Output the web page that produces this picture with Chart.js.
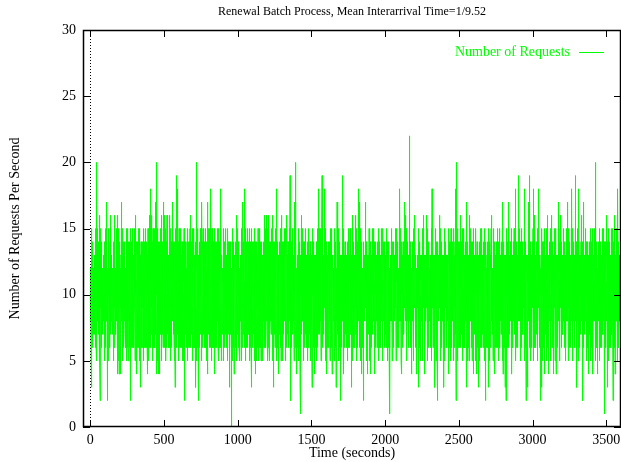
<!DOCTYPE html>
<html>
<head>
<meta charset="utf-8">
<script src="https://cdn.jsdelivr.net/npm/chart.js@4.4.1/dist/chart.umd.min.js"></script>
<style>
  html, body { margin: 0; padding: 0; background: #fff; overflow: hidden; }
  #wrap { width: 621px; height: 462px; position: relative; }
</style>
</head>
<body>
<div id="wrap"><canvas id="requests-chart"></canvas></div>
<script>
// Requests counted in each one-second slot, t = 0 .. 3599 (30 seconds per row)
const requests = [
10,12,8,9,11,5,15,10,9,3,6,11,10,6,14,9,10,14,8,11,9,7,12,10,8,11,9,13,10,7,
11,9,8,12,10,6,9,11,15,6,10,20,9,5,11,10,14,8,9,15,10,8,11,9,7,12,10,9,14,8,
9,16,10,8,11,5,2,9,12,10,6,15,9,11,10,6,14,9,8,10,11,9,7,10,12,8,10,13,9,11,
10,8,12,9,11,5,10,14,9,6,14,10,9,6,11,15,8,10,9,17,9,11,8,10,12,7,2,9,10,11,
5,10,15,9,8,11,10,12,6,9,11,9,10,6,14,15,9,7,16,10,8,12,9,11,10,9,13,8,10,7,
10,11,8,12,9,5,10,9,11,14,9,6,10,14,6,16,11,9,10,8,12,10,9,7,11,15,8,10,9,11,
9,12,10,8,4,11,16,9,10,5,11,6,15,10,9,4,14,10,8,11,9,10,7,12,4,10,11,9,13,8,
10,17,9,11,8,10,12,5,9,11,15,9,10,6,11,6,10,14,9,10,8,11,9,14,10,7,12,9,10,8,
11,6,10,15,8,5,12,14,9,11,6,10,13,9,15,10,5,9,14,7,9,13,8,11,6,12,7,14,10,9,
10,5,15,9,2,12,14,9,6,11,14,8,7,13,9,15,6,10,14,9,10,6,12,8,13,11,6,9,10,14,
9,15,10,5,12,9,14,7,16,10,11,6,14,4,10,8,13,14,9,7,6,12,9,13,11,6,10,9,15,11,
10,15,5,8,14,10,12,6,3,10,9,13,4,10,14,7,9,14,10,6,12,6,10,13,7,14,10,9,12,5,
11,5,10,15,6,10,14,7,9,12,10,8,13,7,11,15,6,13,9,10,6,14,9,14,11,6,10,4,13,9,
10,15,5,11,8,14,6,11,12,16,9,14,6,11,13,7,14,10,6,8,18,11,7,10,13,8,12,16,9,11,
12,5,10,14,11,15,6,10,7,11,10,8,13,9,15,11,14,6,6,14,11,7,10,13,17,9,8,14,10,4,
9,20,10,15,8,12,5,10,14,6,4,11,13,9,14,6,10,14,9,4,10,12,7,8,13,10,15,9,12,7,
11,8,15,16,5,12,10,14,11,7,10,13,9,6,17,6,10,13,9,14,12,8,14,9,6,16,9,11,12,8,
9,15,12,5,10,14,13,10,6,11,16,9,7,14,8,11,14,9,13,10,6,12,11,6,12,10,6,11,15,10,
16,10,5,11,15,8,12,9,14,10,11,6,6,13,14,11,9,17,10,8,10,13,7,11,8,14,13,9,6,10,
10,5,12,14,8,3,10,15,9,14,10,6,19,11,6,10,14,8,13,11,9,18,10,7,12,14,9,6,13,9,
11,5,15,12,9,6,13,11,8,14,10,14,6,15,9,11,7,10,13,9,6,11,14,9,12,10,5,13,9,10,
12,8,14,10,5,11,15,9,6,2,10,13,6,14,7,14,9,11,13,10,8,12,10,6,11,9,14,12,7,11,
10,5,15,9,12,6,11,14,10,8,13,10,14,6,7,11,15,9,12,10,9,6,16,10,8,13,11,7,14,12,
9,15,5,11,8,14,10,6,12,9,11,6,14,15,10,7,13,9,11,6,12,9,14,8,11,10,3,9,13,10,
20,10,5,12,14,8,10,15,6,11,14,9,2,10,13,7,11,6,14,12,9,6,11,13,8,10,15,12,7,11,
10,15,5,12,8,14,9,17,11,6,14,9,10,6,13,15,7,9,12,10,8,11,6,10,14,9,11,13,7,12,
11,8,15,9,6,12,14,9,11,5,9,14,10,14,6,4,10,17,9,13,10,7,12,15,11,8,10,13,6,10,
9,15,10,6,12,8,11,14,18,10,14,5,10,13,7,11,15,9,10,12,10,6,14,9,12,6,9,13,10,11,
4,10,15,8,11,5,12,9,14,10,6,11,9,13,6,10,14,7,11,9,12,8,10,15,9,11,6,13,10,8,
10,15,5,11,9,12,8,14,10,6,9,11,14,6,13,10,18,7,10,12,11,5,10,13,8,9,12,10,7,11,
12,8,11,14,9,5,15,10,6,11,10,14,6,9,13,11,7,10,15,9,8,11,13,10,6,12,9,11,8,14,
11,5,10,15,9,8,12,14,7,10,9,14,6,3,11,10,13,6,11,9,12,8,14,10,7,11,9,10,0,12,
10,8,15,11,5,9,12,14,9,6,14,10,6,13,9,4,11,7,10,12,9,13,10,8,11,6,12,9,14,10,
11,9,5,12,16,10,8,15,9,11,7,10,14,14,9,6,11,10,13,6,10,12,8,11,9,5,12,13,8,10,
12,8,10,15,5,11,9,14,10,6,9,11,13,6,10,17,7,14,9,11,10,14,8,11,12,9,6,10,13,18,
10,5,12,9,15,8,11,14,9,10,6,14,9,11,10,7,13,10,6,15,11,9,12,8,14,10,7,11,9,12,
9,15,5,11,8,10,14,6,11,10,6,12,9,15,3,11,7,9,13,10,6,14,9,11,8,10,14,7,9,12,
12,8,11,5,10,15,6,10,11,9,4,11,6,14,9,7,11,5,14,10,9,13,8,10,6,12,9,11,15,8,
5,12,9,11,14,8,10,6,10,15,11,6,9,14,7,10,13,9,5,11,10,9,14,8,11,7,12,10,9,13,
11,5,12,9,14,10,8,14,6,11,16,6,9,15,11,7,10,12,9,15,10,6,9,11,13,16,8,10,12,7,
12,9,5,10,15,8,11,6,14,10,16,11,6,14,9,5,11,13,7,9,11,10,14,8,12,9,7,11,10,13,
9,15,8,11,5,12,10,16,9,6,11,3,10,14,6,11,9,14,7,10,13,9,11,6,10,12,8,15,9,11,
8,12,18,9,11,5,15,10,9,14,10,14,6,11,6,4,12,9,13,10,7,11,9,12,10,8,14,10,6,11,
12,8,10,15,5,11,9,6,16,10,11,9,13,6,14,10,5,11,14,9,10,12,7,9,11,15,8,10,13,9,
9,11,14,5,10,12,8,15,9,6,10,14,6,11,16,9,7,13,10,11,8,14,10,9,12,6,11,10,13,8,
11,8,15,9,10,19,5,12,10,14,9,2,11,6,13,10,6,14,9,11,10,7,12,15,9,11,8,13,10,9,
12,9,5,11,17,10,15,8,10,6,11,20,9,14,6,14,10,7,11,9,4,12,10,9,13,8,11,6,10,12,
9,11,8,15,10,5,12,9,14,10,6,14,10,3,11,9,13,1,10,12,16,9,11,7,13,10,8,12,9,11,
10,15,8,11,5,12,9,14,10,6,14,9,6,11,13,10,8,12,9,15,7,11,10,13,9,8,12,10,6,11,
11,8,12,10,14,9,5,11,15,9,10,6,14,6,11,13,9,10,7,12,9,14,10,8,12,11,5,10,13,9,
12,9,11,8,3,10,15,9,5,11,10,14,6,14,9,11,7,10,13,9,4,11,9,12,10,8,13,6,11,10,
9,12,5,11,10,14,8,10,14,6,11,9,15,6,10,12,7,18,9,11,13,8,10,11,9,15,7,12,10,9,
10,11,8,15,9,5,12,10,14,9,6,14,19,10,11,6,13,9,10,12,7,11,9,13,10,8,12,11,18,9,
11,9,15,8,10,12,5,11,9,14,4,10,14,9,11,7,13,10,6,12,10,13,9,6,11,10,8,12,14,9,
12,8,10,11,14,9,5,15,10,9,11,6,14,10,6,13,9,11,15,10,4,11,9,12,10,7,13,8,11,10,
9,12,10,5,11,15,8,10,9,14,10,6,14,11,9,6,13,3,10,11,12,9,10,8,17,11,7,12,10,13,
10,11,8,15,9,12,5,10,14,9,11,9,14,6,10,13,7,2,11,10,9,12,10,6,11,8,13,10,9,12,
19,10,12,8,11,9,15,5,10,14,4,11,9,13,10,6,12,10,14,9,11,7,10,12,9,13,8,11,6,10,
12,9,11,14,8,10,5,14,9,11,10,15,6,11,9,6,12,10,13,8,9,11,15,10,8,12,9,11,7,13,
10,8,3,11,12,9,15,10,5,11,16,9,11,6,14,10,14,9,11,6,12,10,8,13,9,11,7,10,12,9,
16,11,9,12,8,10,15,5,11,10,9,14,10,14,6,11,9,18,10,12,8,11,13,9,10,6,12,10,17,9,
11,9,12,8,15,10,5,11,9,14,4,10,13,9,11,6,12,10,6,11,9,2,10,12,8,11,14,9,10,13,
10,12,8,11,9,15,10,17,9,11,14,5,10,14,9,11,6,12,10,13,4,11,9,12,10,8,13,10,7,11,
9,15,10,8,12,11,5,10,14,9,4,11,14,9,10,6,13,11,9,12,10,8,11,15,9,12,7,10,13,9,
12,10,9,15,8,11,10,5,14,9,4,12,10,11,9,14,6,10,12,11,9,13,8,10,11,6,12,9,10,14,
11,8,12,10,15,9,5,11,10,14,9,14,10,6,11,12,6,10,13,9,12,10,9,11,8,13,10,15,9,11,
10,12,9,11,5,15,10,8,14,9,11,9,13,10,6,12,14,9,10,7,13,10,8,11,12,9,6,11,10,12,
9,11,15,8,10,12,9,11,5,14,10,6,14,11,9,13,10,6,11,9,12,10,1,11,9,13,8,10,12,9,
11,15,9,10,8,12,11,5,10,13,5,11,9,14,10,14,6,11,9,12,10,9,11,8,13,10,12,9,11,15,
9,10,12,11,5,15,9,10,14,8,11,14,9,10,12,6,11,13,6,10,12,9,11,10,8,13,10,12,9,11,
18,10,12,9,11,8,15,10,5,11,4,14,9,11,10,13,6,10,12,9,11,10,14,8,12,9,11,7,10,13,
10,12,9,11,17,10,8,16,11,9,14,10,15,6,11,9,5,12,10,14,9,11,10,12,8,13,10,9,11,6,
11,9,12,10,15,8,22,10,9,14,10,11,6,13,9,12,10,5,11,10,4,12,10,9,11,14,8,10,12,9,
10,15,9,11,5,12,10,14,9,11,14,9,16,10,6,11,13,9,10,12,11,8,10,12,9,4,11,13,10,9,
12,10,11,9,15,3,10,14,8,11,9,12,10,14,6,11,9,10,13,5,10,11,9,12,8,13,10,11,9,12,
11,9,15,10,5,12,10,11,9,14,16,10,14,9,11,6,13,10,9,12,4,11,10,9,13,10,12,8,11,10,
16,10,12,9,11,8,15,10,5,14,10,9,11,13,6,12,10,14,9,11,12,10,8,11,9,13,10,6,12,10,
9,12,10,11,5,15,10,9,18,11,10,14,9,14,11,6,10,12,9,13,11,9,10,12,8,11,13,10,3,9,
12,10,9,15,11,5,10,14,9,11,10,13,6,11,2,12,10,9,14,10,9,11,12,10,8,13,9,11,10,12,
16,11,9,12,10,5,15,10,11,9,14,10,14,9,11,6,10,13,9,11,10,12,8,11,9,13,10,12,9,3,
11,10,12,9,15,5,10,11,14,9,10,14,9,11,6,13,10,7,12,10,13,9,11,10,12,8,11,10,9,12,
4,11,5,15,10,8,14,9,6,12,10,13,6,11,5,14,9,15,10,7,12,9,11,6,13,10,8,14,9,11,
9,12,5,11,14,8,10,15,6,11,10,6,13,9,14,7,18,11,9,13,10,2,12,8,11,20,9,13,7,10,
11,5,15,9,12,6,10,14,8,11,13,9,10,7,14,11,6,14,10,6,16,10,8,12,9,13,7,11,10,14,
8,12,10,14,5,11,9,15,6,10,14,6,11,9,15,10,7,12,9,13,10,6,12,11,8,14,9,10,13,7,
11,17,3,10,15,8,12,9,14,5,10,14,6,11,9,13,6,10,12,5,16,9,12,7,11,10,14,8,10,12,
9,15,8,11,10,6,12,14,9,11,5,10,13,9,14,6,11,15,10,6,4,12,9,11,13,8,10,7,12,10,
12,8,11,14,9,5,15,10,6,11,4,13,9,10,14,6,11,7,14,10,9,12,3,11,8,13,10,6,12,9,
10,14,5,12,9,11,8,15,10,6,11,9,13,6,14,10,15,7,11,9,13,8,10,12,6,11,9,14,10,8,
11,9,12,5,15,10,8,14,9,14,6,11,2,10,13,9,12,6,11,7,10,13,9,11,8,14,10,6,12,9,
3,10,12,8,15,9,11,5,14,10,9,14,6,11,6,13,10,9,12,15,16,8,11,10,13,7,12,9,10,11,
12,9,5,15,10,8,11,14,9,6,4,11,13,9,14,10,7,11,6,13,10,8,12,14,9,11,6,10,13,9,
9,15,10,6,12,8,11,14,10,5,11,9,14,6,13,10,15,9,11,6,12,10,8,13,9,11,7,12,10,14,
10,12,8,11,15,17,9,5,14,10,4,11,9,14,6,12,10,6,11,13,9,12,10,8,3,11,13,9,10,7,
2,11,15,9,12,5,10,14,8,11,10,6,14,9,13,6,17,11,10,12,16,9,11,7,13,10,8,12,14,9,
11,8,12,10,14,9,5,15,10,14,4,10,13,6,11,9,12,6,10,14,9,12,8,11,10,15,7,11,9,13,
10,15,9,11,18,8,12,5,10,14,9,11,6,14,10,13,6,11,9,12,7,10,13,9,12,8,11,19,10,9,
12,8,11,15,9,10,6,14,14,9,11,5,10,13,6,12,9,15,10,11,8,12,10,9,14,7,11,13,9,10,
10,12,9,18,11,8,15,10,5,14,9,11,14,6,10,12,2,11,13,9,10,8,12,11,9,3,13,10,7,11,
11,9,17,10,15,8,12,6,11,10,14,19,9,14,6,11,10,13,5,10,12,9,11,8,13,10,6,12,9,14,
9,12,10,15,18,8,11,5,14,10,16,9,11,14,6,10,12,6,11,13,10,8,12,9,11,13,7,10,14,9,
12,10,5,11,15,9,8,14,10,14,9,11,13,18,10,6,12,6,11,9,13,10,8,12,9,11,2,10,13,7,
3,11,9,12,15,8,10,14,5,11,10,14,6,9,13,11,6,10,12,15,4,10,13,9,11,8,12,10,7,13,
11,8,12,10,14,9,5,15,10,14,16,9,11,6,12,10,13,7,11,10,4,12,9,13,10,8,11,14,9,10,
10,15,9,11,5,12,10,8,14,11,16,10,6,14,9,13,11,6,10,12,4,11,10,13,8,12,9,10,15,9,
12,9,11,5,15,10,8,14,14,9,4,11,13,10,6,12,9,11,6,10,13,9,11,10,12,8,17,10,9,12,
9,12,10,14,8,11,5,15,10,11,16,10,9,14,6,13,11,6,10,12,11,8,13,9,10,12,7,11,14,10,
10,15,8,11,12,9,6,14,10,14,11,9,12,5,13,10,6,11,15,9,12,10,8,13,9,11,10,17,8,11,
11,8,12,10,15,5,11,9,14,10,9,14,6,11,10,13,6,12,10,9,13,11,9,12,8,10,14,18,9,11,
12,10,9,15,5,11,8,14,10,14,10,9,13,6,11,12,6,10,13,19,9,11,8,12,10,14,9,7,11,12,
10,3,12,9,11,15,8,10,14,5,11,9,14,10,18,6,13,11,9,6,12,10,8,11,13,9,12,7,10,14,
16,9,11,15,8,10,12,5,11,14,9,14,2,10,11,6,17,12,9,13,10,7,12,11,9,13,8,10,15,9,
11,15,9,10,12,5,11,14,8,10,14,9,11,6,13,10,6,12,9,11,4,10,13,9,12,8,11,10,14,7,
9,12,10,8,15,11,5,14,10,14,10,6,12,11,9,13,6,10,15,9,4,11,9,13,10,12,8,11,9,13,
12,10,8,15,11,20,9,14,5,10,11,13,9,10,14,6,12,6,11,9,4,12,10,9,13,11,8,12,10,14,
10,12,9,11,5,15,10,8,14,14,9,11,13,6,12,10,6,11,9,12,13,10,8,12,9,15,11,7,10,12,
11,9,12,15,8,10,5,14,10,1,12,10,14,9,11,6,13,10,6,11,16,9,12,10,8,13,11,9,14,10,
3,11,9,15,10,8,12,14,5,11,10,14,9,11,13,6,10,6,12,9,11,13,8,10,12,9,15,10,7,12,
12,9,11,10,15,8,2,14,10,14,9,11,5,12,10,16,6,13,9,11,4,10,12,9,13,11,8,10,14,9,
10,15,8,11,12,9,5,13,10,18,11,9,14,6,14,10,6,11,13,9,12,10,8,11,9,13,10,12,7,11
];

// axis range and tick labels
const xRange = [-50, 3600];
const xTicks = [0, 500, 1000, 1500, 2000, 2500, 3000, 3500];
const yTicks = [0, 5, 10, 15, 20, 25, 30];

const GREEN = '#00ff00';
const SERIF = '"Liberation Serif", "DejaVu Serif", serif';
Chart.defaults.font.family = SERIF;
Chart.defaults.color = '#000';

// gnuplot style frame: box, inward ticks on all sides, dotted zero axis, key
const gnuplotFrame = {
    id: 'gnuplotFrame',
    afterDatasetsDraw(chart) {
        const { ctx, chartArea: a, scales: { x, y } } = chart;
        const tick = 7;
        ctx.save();
        ctx.strokeStyle = '#000';
        ctx.lineWidth = 1;

        // zero axis
        const x0 = Math.round(x.getPixelForValue(0)) + 0.5;
        ctx.setLineDash([1, 2]);
        ctx.beginPath();
        ctx.moveTo(x0, a.top);
        ctx.lineTo(x0, a.bottom);
        ctx.stroke();
        ctx.setLineDash([]);

        ctx.beginPath();
        x.ticks.forEach(t => {
            const px = Math.round(x.getPixelForValue(t.value)) + 0.5;
            ctx.moveTo(px, a.bottom); ctx.lineTo(px, a.bottom - tick);
            ctx.moveTo(px, a.top); ctx.lineTo(px, a.top + tick);
        });
        y.ticks.forEach(t => {
            const py = Math.round(y.getPixelForValue(t.value)) + 0.5;
            ctx.moveTo(a.left, py); ctx.lineTo(a.left + tick, py);
            ctx.moveTo(a.right, py); ctx.lineTo(a.right - tick, py);
        });
        ctx.stroke();

        // border
        ctx.lineWidth = 1.5;
        ctx.strokeRect(a.left + 0.5, a.top + 0.5, a.right - a.left - 1, a.bottom - a.top - 1);

        // key, top right inside the plot
        const label = chart.data.datasets[0].label;
        const ky = a.top + 22.5;
        ctx.font = '14px ' + SERIF;
        ctx.fillStyle = GREEN;
        ctx.textAlign = 'right';
        ctx.textBaseline = 'middle';
        ctx.fillText(label, a.right - 51, ky);
        ctx.strokeStyle = GREEN;
        ctx.lineWidth = 1;
        ctx.beginPath();
        ctx.moveTo(a.right - 42, ky);
        ctx.lineTo(a.right - 17, ky);
        ctx.stroke();
        ctx.restore();
    }
};

// no extra room for overhanging tick labels, the box fills the canvas
function noLabelPadding(s) {
    s.paddingLeft = 0;
    s.paddingRight = 0;
    s.paddingTop = 0;
    s.paddingBottom = 0;
}

new Chart(document.getElementById('requests-chart'), {
    type: 'line',
    data: {
        datasets: [{
            label: 'Number of Requests',
            data: requests.map((v, i) => ({ x: i, y: v })),
            borderColor: GREEN,
            borderWidth: 1,
            pointRadius: 0,
            tension: 0,
            fill: false
        }]
    },
    options: {
        responsive: true,
        maintainAspectRatio: false,
        animation: false,
        events: [],
        layout: { padding: 0 },
        plugins: {
            legend: { display: false },
            tooltip: { enabled: false },
            title: {
                display: true,
                fullSize: false,
                text: 'Renewal Batch Process, Mean Interarrival Time=1/9.52',
                color: '#000',
                font: { size: 12, weight: 'normal' },
                padding: { top: 5, bottom: 10.6 }
            }
        },
        scales: {
            x: {
                type: 'linear',
                min: xRange[0],
                max: xRange[1],
                afterBuildTicks: s => { s.ticks = xTicks.map(v => ({ value: v })); },
                afterFit: s => { s.height = 35; noLabelPadding(s); },
                grid: { display: false, drawTicks: false },
                border: { display: false },
                ticks: { font: { size: 14 }, color: '#000', padding: 5, maxRotation: 0, callback: v => String(v) },
                title: {
                    display: true,
                    text: 'Time (seconds)',
                    font: { size: 14 },
                    color: '#000',
                    padding: { top: 0, bottom: 0 }
                }
            },
            y: {
                min: 0,
                max: 30,
                afterBuildTicks: s => { s.ticks = yTicks.map(v => ({ value: v })); },
                afterFit: s => { s.width = 83; noLabelPadding(s); },
                grid: { display: false, drawTicks: false },
                border: { display: false },
                ticks: { font: { size: 14 }, color: '#000', padding: 7, callback: v => String(v) },
                title: {
                    display: true,
                    text: 'Number of Requests Per Second',
                    font: { size: 14 },
                    color: '#000',
                    padding: { top: 6.6, bottom: 0 }
                }
            }
        }
    },
    plugins: [gnuplotFrame]
});
</script>
</body>
</html>
